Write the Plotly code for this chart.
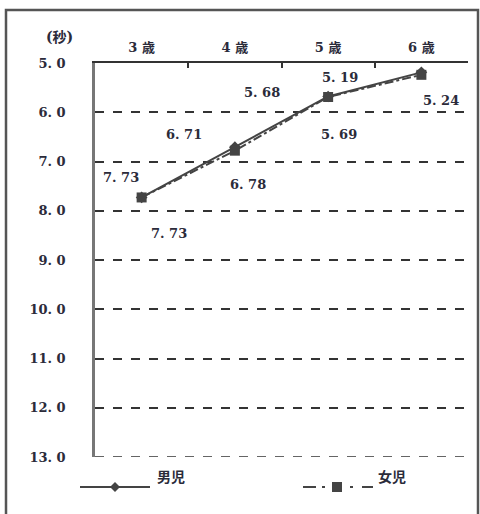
import plotly.graph_objects as go

ages = ["3 歳", "4 歳", "5 歳", "6 歳"]
boys = [7.73, 6.71, 5.68, 5.19]
girls = [7.73, 6.78, 5.69, 5.24]
y_ticks = [5.0, 6.0, 7.0, 8.0, 9.0, 10.0, 11.0, 12.0, 13.0]

W, H = 480, 514
L, R, T, B = 95, 12, 63, 57
PW, PH = W - L - R, H - T - B

FONT = "DejaVu Serif, Noto Sans CJK JP, serif"
INK = "#2b2b3a"
LINE = "#444444"


def px(x):
    return (x - L) / PW


def py(y):
    return (H - B - y) / PH


def fmt(v):
    return f"{v:.2f}".replace(".", ". ")


fig = go.Figure()
fig.add_trace(go.Scatter(
    x=ages, y=boys, name="男児", mode="lines+markers",
    line=dict(color=LINE, width=2),
    marker=dict(symbol="diamond", size=9, color=LINE),
))
fig.add_trace(go.Scatter(
    x=ages, y=girls, name="女児", mode="lines+markers",
    line=dict(color=LINE, width=2, dash="dashdot"),
    marker=dict(symbol="square", size=10, color=LINE),
))

# value labels: boys above-left, girls below-right of each point
boy_shift = [(-21, 20), (-51, 13), (-66, 4), (-81, -5)]
girl_shift = [(27, -36), (13, -34), (11, -38), (20, -26)]
for cat, v, (dx, dy) in zip(ages, boys, boy_shift):
    fig.add_annotation(x=cat, y=v, text=f"<b>{fmt(v)}</b>", showarrow=False,
                       xshift=dx, yshift=dy,
                       font=dict(family=FONT, size=13, color=INK))
for cat, v, (dx, dy) in zip(ages, girls, girl_shift):
    fig.add_annotation(x=cat, y=v, text=f"<b>{fmt(v)}</b>", showarrow=False,
                       xshift=dx, yshift=dy,
                       font=dict(family=FONT, size=13, color=INK))

# axis unit
fig.add_annotation(xref="paper", yref="paper", x=px(44), y=py(27),
                   text="<b>(秒)</b>", showarrow=False,
                   font=dict(family=FONT, size=14, color=INK))

# bottom dashed rule at 13.0
fig.add_shape(type="line", xref="paper", yref="y",
              x0=0, x1=1, y0=13.0, y1=13.0,
              line=dict(color="#333333", width=1.5, dash="dash"))

# outer frame
fig.add_shape(type="rect", xref="paper", yref="paper",
              x0=px(6), x1=px(478), y0=py(530), y1=py(10),
              line=dict(color="#555555", width=2.5), layer="below")

# hand-drawn legend
ly = py(487)
fig.add_shape(type="line", xref="paper", yref="paper",
              x0=px(80), x1=px(150), y0=ly, y1=ly,
              line=dict(color=LINE, width=2))
d = 5
fig.add_shape(type="path", xref="paper", yref="paper",
              path=(f"M {px(115 - d)} {ly} L {px(115)} {py(487 - d)} "
                    f"L {px(115 + d)} {ly} L {px(115)} {py(487 + d)} Z"),
              fillcolor=LINE, line=dict(color=LINE, width=0))
fig.add_annotation(xref="paper", yref="paper", x=px(155), y=ly,
                   xanchor="left", text="<b>男児</b>", showarrow=False,
                   font=dict(family=FONT, size=14, color=INK))

for x0, x1 in [(303, 316), (322, 325), (350, 353), (362, 373)]:
    fig.add_shape(type="line", xref="paper", yref="paper",
                  x0=px(x0), x1=px(x1), y0=ly, y1=ly,
                  line=dict(color=LINE, width=2))
s = 5
fig.add_shape(type="rect", xref="paper", yref="paper",
              x0=px(337 - s), x1=px(337 + s), y0=py(487 + s), y1=py(487 - s),
              fillcolor=LINE, line=dict(color=LINE, width=0))
fig.add_annotation(xref="paper", yref="paper", x=px(376), y=ly,
                   xanchor="left", text="<b>女児</b>", showarrow=False,
                   font=dict(family=FONT, size=14, color=INK))

fig.update_layout(
    width=W, height=H,
    margin=dict(l=L, r=R, t=T, b=B),
    paper_bgcolor="white", plot_bgcolor="white",
    showlegend=False,
    font=dict(family=FONT, color=INK),
)
fig.update_xaxes(
    type="category", side="top", range=[-0.5, 3.5],
    tickvals=ages, ticktext=[f"<b>{a}</b>" for a in ages],
    tickfont=dict(family=FONT, size=13, color=INK),
    showline=True, linecolor="#333333", linewidth=2,
    ticks="inside", tickson="boundaries", ticklen=5, tickcolor="#333333",
    tickwidth=1.5, ticklabelstandoff=4,
    showgrid=False, zeroline=False,
)
fig.update_yaxes(
    range=[13.0, 5.0],
    tickvals=y_ticks, ticktext=[f"<b>{t:.1f}</b>".replace(".", ". ") for t in y_ticks],
    tickfont=dict(family=FONT, size=13, color=INK),
    showline=True, linecolor="#777777", linewidth=2.5,
    ticks="inside", ticklen=4, tickcolor="#333333", tickwidth=1.5,
    ticklabelstandoff=24,
    showgrid=True, gridcolor="#333333", gridwidth=1.5, griddash="dash",
    zeroline=False,
)

fig.write_html("out.html")
